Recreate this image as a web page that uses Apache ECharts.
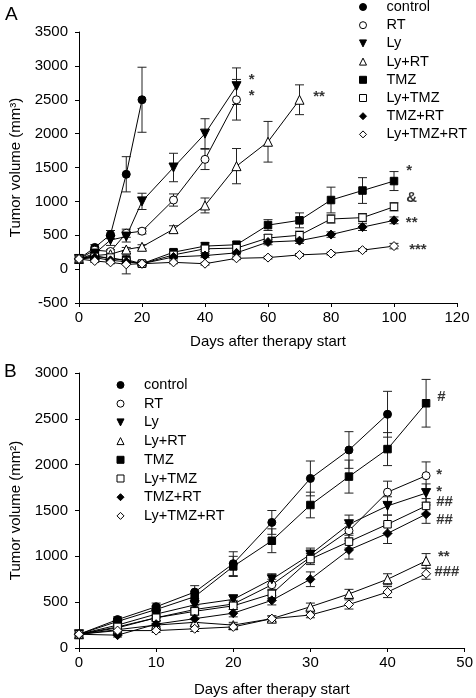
<!DOCTYPE html>
<html><head><meta charset="utf-8">
<script src="https://cdn.jsdelivr.net/npm/echarts@6/dist/echarts.min.js"></script>
<style>html,body{margin:0;padding:0;background:#fff}#c{width:476px;height:698px}</style>
</head><body><div id="c"></div>
<script>
// ---------- DATA ----------
const groupNames = ['control','RT','Ly','Ly+RT','TMZ','Ly+TMZ','TMZ+RT','Ly+TMZ+RT'];

// Panel A (days)
const daysA = [0,5,10,15,20,30,40,50,60,70,80,90,100];
const A_control      = [150,320,510,1400,2500];
const A_control_err  = [0,40,60,260,480];
const A_RT           = [150,280,260,530,560,1020,1620,2500];
const A_RT_err       = [0,30,30,60,40,90,150,300];
const A_Ly           = [150,230,430,480,1000,1500,2000,2700];
const A_Ly_err       = [0,30,80,80,120,210,220,270];
const A_LyRT         = [150,200,220,290,330,590,940,1520,1880,2500];
const A_LyRT_err     = [0,20,30,30,30,50,110,260,300,220];
const A_TMZ          = [150,200,150,140,80,250,340,360,650,720,1020,1160,1300];
const A_TMZ_err      = [0,20,30,40,30,40,50,50,80,110,190,190,140];
const A_LyTMZ        = [150,180,170,120,80,210,300,310,460,500,740,760,920];
const A_LyTMZ_err    = [0,20,30,40,30,30,40,40,50,60,60,60,60];
const A_TMZRT        = [150,170,130,110,80,180,200,240,400,420,510,620,720];
const A_TMZRT_err    = [0,20,20,30,20,30,30,30,40,40,40,50,50];
const A_LyTMZRT      = [150,120,100,70,80,100,80,160,170,210,230,280,340];
const A_LyTMZRT_err  = [0,20,20,140,20,20,20,20,20,20,20,20,40];

// Panel B (days)
const daysB = [0,5,10,15,20,25,30,35,40,45];
const B_control      = [150,310,450,610,920,1370,1850,2160,2550];
const B_control_err  = [0,30,40,70,130,130,190,200,250];
const B_RT           = [150,220,330,420,480,690,990,1280,1700,1880];
const B_RT_err       = [0,20,30,40,40,60,60,80,120,150];
const B_Ly           = [150,250,370,470,530,750,1020,1350,1550,1690];
const B_Ly_err       = [0,20,30,40,50,60,70,100,100,100];
const B_LyRT         = [150,200,250,280,250,320,450,590,750,950];
const B_LyRT_err     = [0,20,20,30,30,30,40,50,60,80];
const B_TMZ          = [150,290,420,560,890,1170,1560,1870,2170,2670];
const B_TMZ_err      = [0,30,40,60,110,130,140,180,180,260];
const B_LyTMZ        = [150,230,330,400,460,590,970,1160,1350,1550];
const B_LyTMZ_err    = [0,20,30,40,40,50,60,70,100,80];
const B_TMZRT        = [150,140,260,320,380,520,750,1070,1250,1460];
const B_TMZRT_err    = [0,20,30,40,40,50,80,100,110,100];
const B_LyTMZRT      = [150,190,190,210,230,320,360,475,610,810];
const B_LyTMZRT_err  = [0,20,20,30,30,30,30,50,60,60];

// Significance annotations [day, volume, text]
const A_notes = [[54.8,2795,'*'],[54.8,2564,'*'],[76.2,2544,'**'],[104.8,1457,'*'],[105.6,1059,'&'],[105.6,681,'**'],[107.6,277,'***']];
const B_notes = [[47.0,2741,'#'],[46.7,1888,'*'],[46.7,1698,'*'],[47.4,1597,'##'],[47.4,1403,'##'],[47.3,989,'**'],[47.7,828,'###']];

// Axis ticks
const A_xTicks = {min:0,max:120,interval:20};
const A_yTicks = {min:-500,max:3500,interval:500};
const B_xTicks = {min:0,max:50,interval:10};
const B_yTicks = {min:0,max:3000,interval:500};

// ---------- STYLE ----------
const FONT = 'Liberation Sans, Arial, sans-serif';
const downTri = 'path://M0,0 L10,0 L5,10 Z';
const upTri = 'path://M5,0 L10,10 L0,10 Z';
const styles = {
  'control':   {symbol:'circle', fill:'#000', size:8},
  'RT':        {symbol:'circle', fill:'#fff', size:8},
  'Ly':        {symbol:downTri,  fill:'#000', size:9},
  'Ly+RT':     {symbol:upTri,    fill:'#fff', size:9},
  'TMZ':       {symbol:'rect',   fill:'#000', size:7.5},
  'Ly+TMZ':    {symbol:'rect',   fill:'#fff', size:7.5},
  'TMZ+RT':    {symbol:'diamond',fill:'#000', size:9},
  'Ly+TMZ+RT': {symbol:'diamond',fill:'#fff', size:9}
};

const A_vals = [A_control,A_RT,A_Ly,A_LyRT,A_TMZ,A_LyTMZ,A_TMZRT,A_LyTMZRT];
const A_errs = [A_control_err,A_RT_err,A_Ly_err,A_LyRT_err,A_TMZ_err,A_LyTMZ_err,A_TMZRT_err,A_LyTMZRT_err];
const B_vals = [B_control,B_RT,B_Ly,B_LyRT,B_TMZ,B_LyTMZ,B_TMZRT,B_LyTMZRT];
const B_errs = [B_control_err,B_RT_err,B_Ly_err,B_LyRT_err,B_TMZ_err,B_LyTMZ_err,B_TMZRT_err,B_LyTMZRT_err];

function axisCommon(margin) {
  return {
    axisLine:{show:true,onZero:false,lineStyle:{color:'#000',width:1}},
    axisTick:{show:true,inside:false,length:4,lineStyle:{color:'#000'}},
    splitLine:{show:false},
    axisLabel:{color:'#000',fontSize:15,fontFamily:FONT,margin:margin,formatter:function(v){return String(v);}},
    nameTextStyle:{color:'#000',fontSize:15,fontFamily:FONT}
  };
}

const series = [];
function addPanel(idx, days, vals, errs, notes) {
  const ebData = [];
  vals.forEach((v,si)=>v.forEach((y,i)=>{ if (errs[si][i]>0) ebData.push([days[i], y, errs[si][i]]); }));
  series.push({
    type:'custom', xAxisIndex:idx, yAxisIndex:idx, z:1, silent:true,
    data: ebData,
    renderItem:function(params, api){
      const x = api.value(0), y = api.value(1), e = api.value(2);
      const top = api.coord([x, y+e]);
      const bot = api.coord([x, y-e]);
      const w = 4.5;
      const st = {stroke:'#222', lineWidth:1};
      return {type:'group', children:[
        {type:'line', shape:{x1:top[0],y1:top[1],x2:bot[0],y2:bot[1]}, style:st},
        {type:'line', shape:{x1:top[0]-w,y1:top[1],x2:top[0]+w,y2:top[1]}, style:st},
        {type:'line', shape:{x1:bot[0]-w,y1:bot[1],x2:bot[0]+w,y2:bot[1]}, style:st}
      ]};
    }
  });
  vals.forEach((v,si)=>{
    const name = groupNames[si];
    const s = styles[name];
    series.push({
      type:'line', name:name, xAxisIndex:idx, yAxisIndex:idx, z:3,
      data: v.map((y,i)=>[days[i], y]),
      symbol: s.symbol, symbolSize: s.size, showAllSymbol:true,
      lineStyle:{color:'#000', width:1},
      itemStyle:{color:s.fill, borderColor:'#000', borderWidth:1},
      emphasis:{disabled:true}, silent:true
    });
  });
  series.push({
    type:'scatter', xAxisIndex:idx, yAxisIndex:idx, z:4, symbolSize:0, silent:true,
    data: notes.map(n=>({value:[n[0],n[1]], name:n[2]})),
    label:{show:true, position:'inside', formatter:'{b}', color:'#000', fontSize:15, fontWeight:'bold', fontFamily:FONT}
  });
}
addPanel(0, daysA, A_vals, A_errs, A_notes);
addPanel(1, daysB, B_vals, B_errs, B_notes);

function legendFor(left, top, gap) {
  return {
    orient:'vertical', left:left, top:top, padding:0, itemWidth:7, itemHeight:7, itemGap:gap,
    selectedMode:false,
    textStyle:{color:'#000', fontSize:14.5, fontFamily:FONT, padding:[0,0,0,15], lineHeight:16},
    data: groupNames.map(n=>({name:n, icon:styles[n].symbol, itemStyle:{color:styles[n].fill, borderColor:'#000', borderWidth:1}}))
  };
}

const chart = echarts.init(document.getElementById('c'), null, {renderer:'canvas'});
chart.setOption({
  animation:false,
  backgroundColor:'#fff',
  textStyle:{fontFamily:FONT},
  grid:[
    {left:79, top:32, width:378, height:271},
    {left:79, top:373, width:387, height:278}
  ],
  xAxis:[
    Object.assign(axisCommon(7), {gridIndex:0, type:'value', min:A_xTicks.min, max:A_xTicks.max, interval:A_xTicks.interval,
      name:'Days after therapy start', nameLocation:'middle', nameGap:31}),
    Object.assign(axisCommon(7), {gridIndex:1, type:'value', min:B_xTicks.min, max:B_xTicks.max, interval:B_xTicks.interval,
      name:'Days after therapy start', nameLocation:'middle', nameGap:34})
  ],
  yAxis:[
    Object.assign(axisCommon(11), {gridIndex:0, type:'value', min:A_yTicks.min, max:A_yTicks.max, interval:A_yTicks.interval,
      name:'Tumor volume (mm³)', nameLocation:'middle', nameGap:56}),
    Object.assign(axisCommon(11), {gridIndex:1, type:'value', min:B_yTicks.min, max:B_yTicks.max, interval:B_yTicks.interval,
      name:'Tumor volume (mm²)', nameLocation:'middle', nameGap:56})
  ],
  legend:[ legendFor(359, -1, 2.2), legendFor(116.5, 377, 2.7) ],
  graphic:[
    {type:'text', left:5, top:5, style:{text:'A', fontSize:19, fontFamily:FONT, fill:'#000'}},
    {type:'text', left:4, top:362, style:{text:'B', fontSize:19, fontFamily:FONT, fill:'#000'}}
  ],
  series: series
});
</script></body></html>
